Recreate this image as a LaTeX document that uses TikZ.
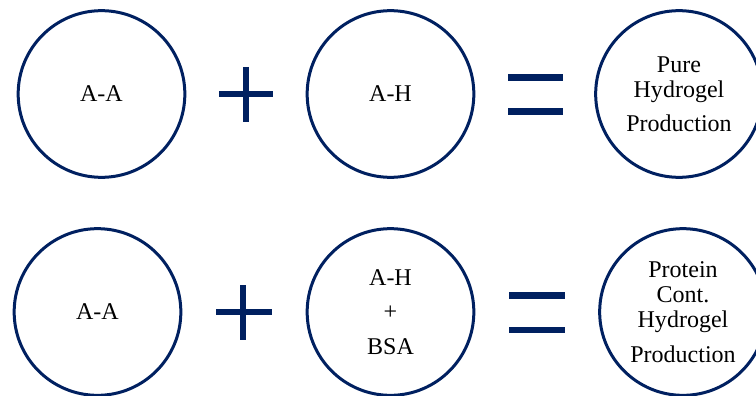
\documentclass[tikz,border=0pt]{standalone}
\usepackage{fontspec}
\setmainfont{Liberation Serif}
\usepackage{xcolor}
\usepackage{tikz}
\usetikzlibrary{positioning,calc}

\definecolor{navy}{HTML}{002060}

\begin{document}
\begin{tikzpicture}[x=0.03cm, y=-0.03cm,
		blob/.style={draw=navy, circle, line width=0.09cm, minimum size=5.0cm, inner sep=0pt, align=center, font=\fontsize{20.5}{21.3}\selectfont},
		opbar/.style={navy, line width=0.2cm}]
		\useasboundingbox (0,0) rectangle (756,396);

		% pure hydrogel
		\begin{scope}
			\node[blob] (aa1) at (101.5,94) {A-A};
			\node[blob] (ah1) at (390.5,94) {A-H};
			\node[blob] (pure) at (679,94) {Pure\\Hydrogel\\[8pt]Production};
			\draw[opbar] (219,94) -- (273,94);
			\draw[opbar] (246,67) -- (246,122);
			\draw[opbar] (508,77.3) -- (563,77.3);
			\draw[opbar] (508,111.3) -- (563,111.3);
		\end{scope}

		% protein containing hydrogel
		\begin{scope}
			\node[blob] (aa2) at (97.5,312) {A-A};
			\node[blob, font=\fontsize{20.5}{29.5}\selectfont] (ahbsa) at (390.5,312) {A-H\\+\\BSA};
			\node[blob] (prot) at (683,312) {Protein\\Cont.\\Hydrogel\\[8.5pt]Production};
			\draw[opbar] (216,312) -- (272,312);
			\draw[opbar] (243,285) -- (243,340);
			\draw[opbar] (509,295.7) -- (565,295.7);
			\draw[opbar] (509,330) -- (565,330);
		\end{scope}
	\end{tikzpicture}
\end{document}
